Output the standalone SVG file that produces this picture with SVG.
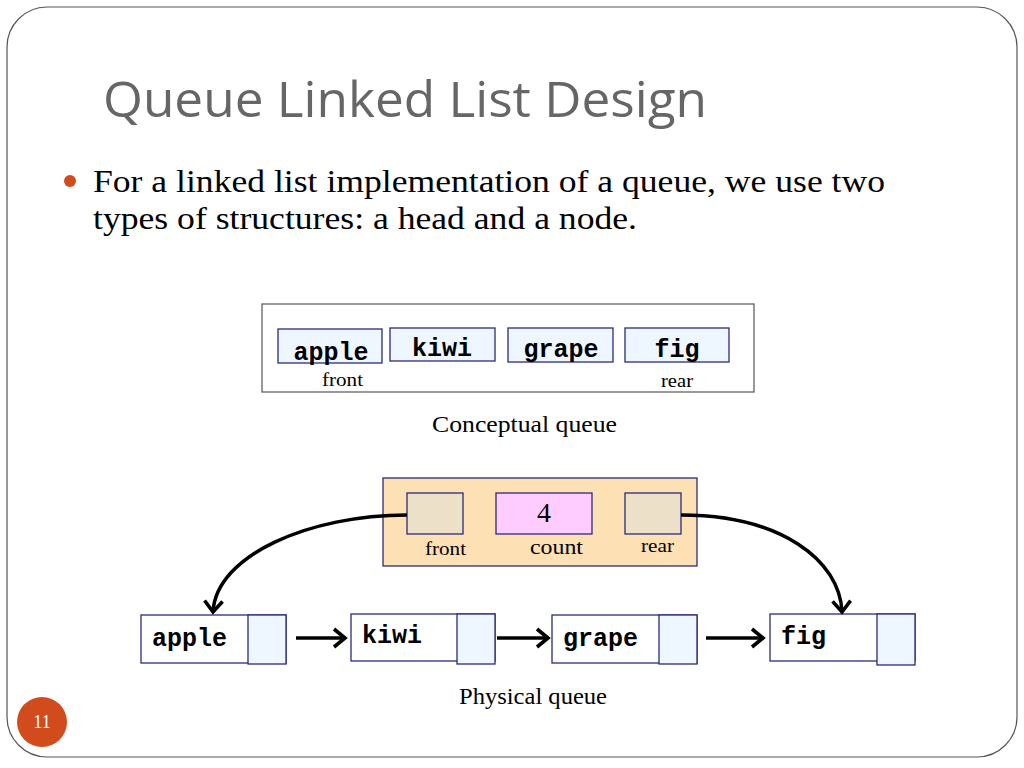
<svg xmlns="http://www.w3.org/2000/svg" width="1024" height="768" viewBox="0 0 1024 768">
<style>
.cell{fill:#eef6ff;stroke:#2b2b7a;stroke-width:1.3}
.box{fill:#ffffff;stroke:#2b2b7a;stroke-width:1.3}
.mono{font-family:"Liberation Mono","Courier New",monospace;font-weight:bold;font-size:25px;fill:#000}
.serif{font-family:"Liberation Serif","Times New Roman",serif;fill:#000}
.conn{fill:none;stroke:#000;stroke-width:3.5}
.ptr{fill:#ede0c8;stroke:#2b2b7a;stroke-width:1.3}
</style>
<defs>
<marker id="ah" markerUnits="userSpaceOnUse" markerWidth="24" markerHeight="24" viewBox="-14 -12 16 24" refX="0" refY="0" orient="auto">
<path d="M-11,-9 L0,0 L-11,9" fill="none" stroke="#000" stroke-width="3.6" stroke-linejoin="miter"/>
</marker>
</defs>
<rect width="1024" height="768" fill="#ffffff"/>
<rect x="7" y="7" width="1010" height="750" rx="40" ry="40" fill="none" stroke="#555" stroke-width="1.2"/>
<text x="103" y="117" font-family="Open Sans, sans-serif" font-size="50" fill="#666" textLength="604" lengthAdjust="spacingAndGlyphs">Queue Linked List Design</text>
<circle cx="70" cy="181" r="6" fill="#d14b1c"/>
<text class="serif" x="93" y="192" font-size="31" textLength="792" lengthAdjust="spacingAndGlyphs">For a linked list implementation of a queue, we use two</text>
<text class="serif" x="93" y="229" font-size="31" textLength="544" lengthAdjust="spacingAndGlyphs">types of structures: a head and a node.</text>

<g id="conceptual">
<rect x="262" y="304" width="492" height="88" fill="#fff" stroke="#555" stroke-width="1.2"/>
<rect class="cell" x="278" y="329" width="104" height="34"/>
<rect class="cell" x="390" y="328" width="105" height="33"/>
<rect class="cell" x="508" y="328" width="105" height="34"/>
<rect class="cell" x="625" y="328" width="104" height="34"/>
<text class="mono" x="331" y="360" text-anchor="middle">apple</text>
<text class="mono" x="442" y="356" text-anchor="middle">kiwi</text>
<text class="mono" x="561" y="357" text-anchor="middle">grape</text>
<text class="mono" x="677" y="357" text-anchor="middle">fig</text>
<text class="serif" x="322" y="386" font-size="19" textLength="41" lengthAdjust="spacingAndGlyphs">front</text>
<text class="serif" x="661" y="387" font-size="19" textLength="32" lengthAdjust="spacingAndGlyphs">rear</text>
<text class="serif" x="432" y="432" font-size="24" textLength="185" lengthAdjust="spacingAndGlyphs">Conceptual queue</text>
</g>

<g id="head">
<rect x="383" y="478" width="314" height="88" fill="#fde0b4" stroke="#2b2b7a" stroke-width="1.3"/>
<rect class="ptr" x="407" y="493" width="56" height="41"/>
<rect x="496" y="493" width="96" height="41" fill="#ffccff" stroke="#2b2b7a" stroke-width="1.3"/>
<rect class="ptr" x="625" y="493" width="56" height="41"/>
<text class="serif" x="544" y="522" font-size="28" text-anchor="middle">4</text>
<text class="serif" x="425" y="555" font-size="19" textLength="41" lengthAdjust="spacingAndGlyphs">front</text>
<text class="serif" x="530" y="554" font-size="22" textLength="53" lengthAdjust="spacingAndGlyphs">count</text>
<text class="serif" x="641" y="552" font-size="19" textLength="33" lengthAdjust="spacingAndGlyphs">rear</text>
</g>

<g id="node-apple">
<rect class="box" x="141" y="615" width="145" height="48"/>
<rect class="cell" x="248" y="615" width="38" height="49"/>
<text class="mono" x="152" y="646">apple</text>
</g>
<g id="node-kiwi">
<rect class="box" x="351" y="614" width="144" height="47"/>
<rect class="cell" x="457" y="614" width="38" height="50"/>
<text class="mono" x="362" y="643">kiwi</text>
</g>
<g id="node-grape">
<rect class="box" x="552" y="615" width="145" height="48"/>
<rect class="cell" x="659" y="615" width="38" height="49"/>
<text class="mono" x="563" y="646">grape</text>
</g>
<g id="node-fig">
<rect class="box" x="770" y="614" width="145" height="47"/>
<rect class="cell" x="877" y="614" width="38" height="51"/>
<text class="mono" x="781" y="644">fig</text>
</g>
<text class="serif" x="459" y="704" font-size="24" textLength="148" lengthAdjust="spacingAndGlyphs">Physical queue</text>

<g id="connectors">
<path class="conn" d="M296,638 L345,638" marker-end="url(#ah)"/>
<path class="conn" d="M497,638 L548,638" marker-end="url(#ah)"/>
<path class="conn" d="M706,638 L763,638" marker-end="url(#ah)"/>
<path class="conn" d="M407,515 C310,515 216,555 213,612" marker-end="url(#ah)"/>
<path class="conn" d="M681,515 C780,515 840,560 842,612" marker-end="url(#ah)"/>
</g>

<circle cx="42" cy="722" r="25" fill="#d14b1c"/>
<text x="42" y="728" font-family="Liberation Serif, serif" font-size="18" fill="#fff" text-anchor="middle">11</text>
</svg>
